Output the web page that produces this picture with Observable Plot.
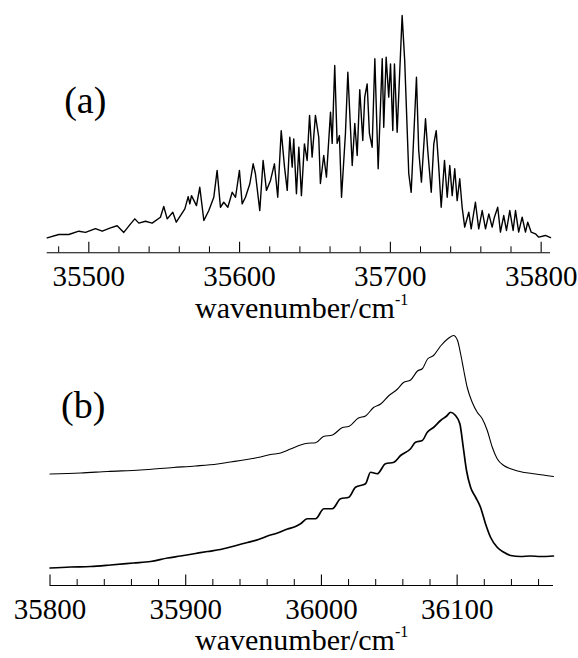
<!DOCTYPE html>
<html><head><meta charset="utf-8">
<script src="https://cdn.jsdelivr.net/npm/d3@7"></script>
<script src="https://cdn.jsdelivr.net/npm/@observablehq/plot@0.6"></script>
<style>
body{margin:0;background:#fff;}
#wrap{position:relative;width:578px;height:658px;overflow:hidden;font-family:"Liberation Serif","Times New Roman",serif;}
#wrap svg{display:block;}
.xl{position:absolute;font-size:30px;line-height:30px;white-space:nowrap;color:#000;}
.xl sup{font-size:16px;line-height:0;vertical-align:0;position:relative;top:-13px;}
</style></head>
<body><div id="wrap"></div>
<script>
// ---- Panel (a): LIF-type spectrum ----
const specA_wn = [35472.4,35480.1,35486.7,35493.4,35497.8,35504.4,35508.9,35514.4,35518.8,35523.2,
35527.7,35530.5,35533.2,35537.6,35542.0,35547.5,35549.7,35552.0,35555.7,35558.0,
35560.8,35563.7,35565.9,35567.0,35568.1,35571.4,35573.6,35576.3,35579.6,35582.9,
35585.1,35587.3,35589.5,35592.2,35595.1,35597.3,35599.9,35601.7,35603.9,35606.8,
35609.0,35610.5,35613.4,35615.6,35617.8,35620.5,35623.1,35625.3,35627.6,35629.8,
35631.6,35633.3,35634.9,35635.9,35637.7,35639.3,35641.0,35643.0,35644.8,35646.4,
35648.1,35650.3,35652.5,35653.6,35655.8,35657.6,35660.3,35661.4,35663.1,35664.7,
35666.2,35667.6,35670.2,35671.8,35674.7,35676.4,35678.0,35679.7,35681.7,35683.0,
35684.6,35686.1,35687.9,35689.7,35691.9,35694.6,35695.6,35697.2,35698.9,35700.1,
35701.6,35702.7,35704.5,35707.8,35709.5,35712.2,35713.8,35717.3,35718.8,35720.6,
35723.3,35724.8,35727.1,35728.8,35730.4,35732.1,35733.7,35735.9,35737.7,35739.4,
35741.0,35742.7,35744.3,35746.0,35747.6,35749.3,35752.0,35753.6,35756.4,35758.6,
35760.9,35763.1,35765.3,35767.5,35769.0,35771.2,35773.0,35775.2,35777.0,35779.2,
35781.4,35783.0,35785.1,35787.4,35789.6,35791.1,35793.4,35796.2,35798.4,35802.8,
35806.2];
const specA_int = [0.063,0.077,0.077,0.091,0.086,0.102,0.091,0.105,0.114,0.086,
0.122,0.143,0.125,0.133,0.125,0.150,0.195,0.143,0.171,0.129,
0.157,0.185,0.237,0.206,0.241,0.199,0.276,0.136,0.178,0.234,
0.347,0.192,0.213,0.192,0.255,0.234,0.347,0.206,0.234,0.291,
0.375,0.333,0.178,0.389,0.263,0.305,0.375,0.234,0.515,0.361,
0.263,0.487,0.361,0.480,0.249,0.445,0.241,0.459,0.389,0.579,
0.403,0.579,0.487,0.292,0.410,0.319,0.593,0.461,0.789,0.461,
0.494,0.234,0.503,0.761,0.368,0.545,0.410,0.687,0.473,0.656,
0.712,0.503,0.445,0.818,0.354,0.818,0.529,0.824,0.656,0.796,
0.515,0.796,0.508,1.000,0.810,0.333,0.255,0.740,0.431,0.298,
0.565,0.431,0.255,0.459,0.515,0.361,0.192,0.389,0.234,0.368,
0.241,0.354,0.220,0.312,0.192,0.108,0.171,0.101,0.213,0.101,
0.178,0.101,0.164,0.108,0.150,0.192,0.087,0.157,0.094,0.178,
0.094,0.178,0.087,0.150,0.087,0.129,0.087,0.080,0.066,0.073,
0.064];
const majorTicksA = [35500,35600,35700,35800];
const minorTicksA = [35480,35520,35540,35560,35580,35620,35640,35660,35680,35720,35740,35760,35780];

// ---- Panel (b): two band contours (upper = simulated, lower = observed) ----
const upperB_wn = [35800,35822.5,35842.4,35866.7,35891.0,35907.2,35923.4,35933.0,35940.4,35949.2,
35955.1,35962.5,35969.9,35977.2,35984.6,35989.8,35995.7,36001.5,36008.2,36015.5,
36020.0,36027.3,36032.5,36038.4,36043.6,36049.4,36056.1,36060.5,36065.7,36070.8,
36074.5,36078.2,36082.6,36087.8,36092.9,36097.3,36100.3,36102.5,36104.9,36107.4,
36111.1,36114.8,36118.5,36122.2,36125.9,36129.5,36134.4,36139.4,36144.5,36157.8,
36171.0];
const upperB_int = [0.446,0.450,0.456,0.462,0.472,0.478,0.486,0.494,0.500,0.508,
0.514,0.524,0.530,0.546,0.562,0.569,0.571,0.596,0.602,0.632,
0.636,0.670,0.678,0.712,0.726,0.758,0.786,0.812,0.822,0.858,
0.868,0.906,0.920,0.958,0.986,1.000,0.980,0.928,0.860,0.793,
0.733,0.693,0.667,0.620,0.553,0.507,0.480,0.467,0.458,0.446,
0.436];
const lowerB_wn = [35800,35815.1,35829.8,35844.6,35861.5,35874.1,35886.6,35896.2,35907.2,35916.1,
35925.6,35933.0,35945.5,35953.6,35960.3,35967.6,35975.0,35980.9,35984.6,35989.5,
35995.7,36001.8,36008.0,36014.1,36020.2,36025.1,36032.5,36036.2,36041.1,36047.2,
36053.4,36058.3,36065.7,36069.3,36074.3,36078.0,36082.8,36087.8,36092.7,36095.1,
36098.8,36102.0,36104.5,36106.9,36109.9,36113.6,36117.2,36120.9,36124.6,36129.5,
36134.4,36139.4,36146.7,36154.1,36161.4,36171.0];
const lowerB_int = [0.070,0.074,0.076,0.082,0.090,0.096,0.110,0.118,0.128,0.136,
0.144,0.154,0.172,0.184,0.198,0.210,0.226,0.236,0.247,0.267,
0.267,0.307,0.307,0.347,0.353,0.393,0.407,0.453,0.447,0.487,
0.493,0.520,0.547,0.573,0.580,0.613,0.633,0.660,0.680,0.693,
0.680,0.647,0.553,0.460,0.393,0.353,0.313,0.247,0.193,0.153,
0.133,0.120,0.116,0.118,0.116,0.118];
const majorTicksB = [35800,35900,36000,36100];
const minorTicksB = [35820,35840,35860,35880,35920,35940,35960,35980,36020,36040,36060,36080,36120,36140,36160];

const panelLabels = ["(a)","(b)"];
const axisTitle = "wavenumber/cm";
const axisTitleSup = "-1";

const zip = (xs, ys, s) => xs.map((x, i) => ({wn: x, int: ys[i], s}));
const specA = zip(specA_wn, specA_int, "a");
const upperB = zip(upperB_wn, upperB_int, "upper");
const lowerB = zip(lowerB_wn, lowerB_int, "lower");

const style = {fontFamily: "'Liberation Serif','Times New Roman',serif", background: "white", color: "black", overflow: "visible"};

function ticks(major, minor, frameH) {
  return [
    Plot.ruleY([0], {stroke: "black", strokeWidth: 1.1}),
    Plot.tickX(major, {x: d => d, insetTop: frameH - 10.5, stroke: "black", strokeWidth: 1.1}),
    Plot.tickX(minor, {x: d => d, insetTop: frameH - 6, stroke: "black", strokeWidth: 1}),
    Plot.axisX(major, {tickSize: 0, tickPadding: 13, fontSize: 29, tickFormat: d => String(d), label: null, fill: "black"})
  ];
}

// Panel (a)
const hA = 330, mtA = 15, mbA = 330 - 252.3;
const chartA = Plot.plot({
  width: 578, height: hA,
  marginLeft: 46.7, marginRight: 28, marginTop: mtA, marginBottom: mbA,
  x: {domain: [35472.4, 35806.2]},
  y: {domain: [0, 1], axis: null},
  style,
  marks: [
    ...ticks(majorTicksA, minorTicksA, hA - mtA - mbA),
    Plot.line(specA, {x: "wn", y: "int", stroke: "black", strokeWidth: 1.4, strokeLinejoin: "round"}),
    Plot.text([panelLabels[0]], {frameAnchor: "top-left", lineAnchor: "middle", dx: 17, dy: 85, fontSize: 38, textAnchor: "start", fill: "black"})
  ]
});

// Panel (b)
const hB = 328, mtB = 5, mbB = 328 - 255;
const chartB = Plot.plot({
  width: 578, height: hB,
  marginLeft: 49.5, marginRight: 25, marginTop: mtB, marginBottom: mbB,
  x: {domain: [35800, 36171.0]},
  y: {domain: [0, 1], axis: null},
  style,
  marks: [
    ...ticks(majorTicksB, minorTicksB, hB - mtB - mbB),
    Plot.line(upperB, {x: "wn", y: "int", stroke: "black", strokeWidth: 1.1, curve: "monotone-x"}),
    Plot.line(lowerB, {x: "wn", y: "int", stroke: "black", strokeWidth: 1.7, curve: "monotone-x"}),
    Plot.text([panelLabels[1]], {frameAnchor: "top-left", lineAnchor: "middle", dx: 11, dy: 70, fontSize: 38, textAnchor: "start", fill: "black"})
  ]
});

const wrap = document.getElementById("wrap");
wrap.appendChild(chartA);
wrap.appendChild(chartB);

function addTitle(top) {
  const d = document.createElement("div");
  d.className = "xl";
  d.style.left = "195px";
  d.style.top = top + "px";
  d.textContent = axisTitle;
  const s = document.createElement("sup");
  s.textContent = axisTitleSup;
  d.appendChild(s);
  wrap.appendChild(d);
}
addTitle(293);
addTitle(625);
</script>
</body></html>
